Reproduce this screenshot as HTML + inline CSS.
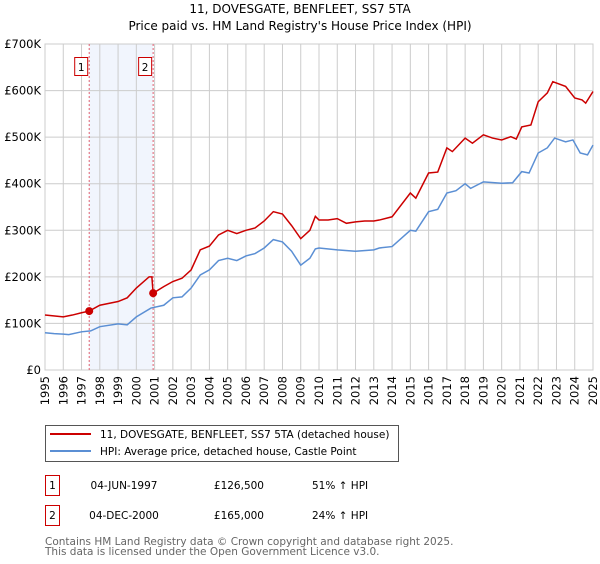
<!DOCTYPE html>
<html><head><meta charset="utf-8"><style>
body{margin:0;background:#fff;width:600px;height:560px;overflow:hidden;font-family:"DejaVu Sans","Liberation Sans",sans-serif}
svg text{font-family:"DejaVu Sans","Liberation Sans",sans-serif}
</style></head><body>
<svg id="c" width="600" height="560" xmlns="http://www.w3.org/2000/svg">
<text x="300" y="13" text-anchor="middle" font-size="12" fill="#000">11, DOVESGATE, BENFLEET, SS7 5TA</text>
<text x="300" y="30" text-anchor="middle" font-size="12" fill="#000">Price paid vs. HM Land Registry's House Price Index (HPI)</text>
<g id="plot"></g>
<g>
<rect x="45.5" y="425.5" width="353" height="36" fill="#fff" stroke="#555"/>
<line x1="50" y1="434" x2="91" y2="434" stroke="#cc0000" stroke-width="2"/>
<text x="100" y="438" font-size="10.5">11, DOVESGATE, BENFLEET, SS7 5TA (detached house)</text>
<line x1="50" y1="451" x2="91" y2="451" stroke="#5b8fd4" stroke-width="2"/>
<text x="100" y="455" font-size="10.5">HPI: Average price, detached house, Castle Point</text>
</g>
<g font-size="10.5">
<rect x="45.5" y="475.5" width="14" height="20" fill="#fff" stroke="#cc0000"/>
<text x="52.5" y="489" text-anchor="middle">1</text>
<text x="124" y="489" text-anchor="middle">04-JUN-1997</text>
<text x="264" y="489" text-anchor="end">£126,500</text>
<text x="312" y="489">51% ↑ HPI</text>
<rect x="45.5" y="505.5" width="14" height="20" fill="#fff" stroke="#cc0000"/>
<text x="52.5" y="519" text-anchor="middle">2</text>
<text x="124" y="519" text-anchor="middle">04-DEC-2000</text>
<text x="264" y="519" text-anchor="end">£165,000</text>
<text x="312" y="519">24% ↑ HPI</text>
</g>
<text x="45" y="545" font-size="10.5" fill="#666">Contains HM Land Registry data © Crown copyright and database right 2025.</text>
<text x="45" y="555" font-size="10.5" fill="#666">This data is licensed under the Open Government Licence v3.0.</text>
</svg>
<script>
const yearTicks=[1995,1996,1997,1998,1999,2000,2001,2002,2003,2004,2005,2006,2007,2008,2009,2010,2011,2012,2013,2014,2015,2016,2017,2018,2019,2020,2021,2022,2023,2024,2025];
const priceTicks=[0,100,200,300,400,500,600,700];
const priceTickLabels=["£0","£100K","£200K","£300K","£400K","£500K","£600K","£700K"];
const hpiYears=[1995,1995.5,1996,1996.3,1997,1997.5,1998,1999,1999.5,2000,2000.8,2001.5,2002,2002.5,2003,2003.5,2004,2004.5,2005,2005.5,2006,2006.5,2007,2007.5,2008,2008.5,2009,2009.5,2009.8,2010,2011,2012,2013,2013.3,2014,2015,2015.3,2016,2016.5,2017,2017.5,2018,2018.3,2019,2020,2020.6,2021.1,2021.5,2022,2022.5,2022.9,2023.5,2023.9,2024.3,2024.7,2025];
const hpiValues=[80,78,77,76,82,84,93,99,97,114,133,139,155,157,176,204,215,235,240,235,245,250,262,280,275,255,225,240,260,262,258,255,258,262,265,300,298,340,345,380,385,400,390,404,401,402,426,423,466,477,498,490,494,466,462,483];
const propYears=[1995,1996,1996.5,1997,1997.42,1998,1999,1999.5,2000,2000.7,2000.85,2000.92,2001.5,2002,2002.5,2003,2003.5,2004,2004.5,2005,2005.5,2006,2006.5,2007,2007.5,2008,2008.5,2009,2009.5,2009.8,2010,2010.5,2011,2011.5,2012,2012.5,2013,2013.3,2014,2015,2015.3,2016,2016.5,2017,2017.3,2018,2018.4,2019,2019.5,2020,2020.5,2020.8,2021.1,2021.6,2022,2022.5,2022.8,2023.5,2024,2024.4,2024.6,2025];
const propValues=[118,114,118,123,126.5,139,147,155,176,200,200,165,179,190,197,215,258,266,290,300,293,300,305,320,340,335,310,282,300,330,322,322,325,315,318,320,320,322,329,380,369,423,425,477,469,498,487,505,498,494,501,496,522,526,576,595,619,609,584,580,573,598];
const saleYears=[1997.42,2000.92];
const saleValues=[126.5,165];
const saleLabels=["1","2"];
const NS="http://www.w3.org/2000/svg";
const L=45,R=593,T=44,B=370;
const xs=y=>L+(y-1995)/(2025-1995)*(R-L);
const ys=v=>B-v/700*(B-T);
const g=document.getElementById('plot');
function mk(t,a){const e=document.createElementNS(NS,t);for(const k in a)e.setAttribute(k,a[k]);g.appendChild(e);return e;}
let e=mk('rect',{x:xs(saleYears[0]),y:T,width:xs(saleYears[1])-xs(saleYears[0]),height:B-T,fill:'#eef3fc',opacity:0.8});


yearTicks.forEach(y=>{
 let l=mk('line',{x1:xs(y),x2:xs(y),y1:T,y2:B,stroke:'#ccc','stroke-width':1});
 
 
 let t=mk('text',{x:0,y:0,'font-size':11.5,'text-anchor':'end',transform:`translate(${xs(y)+4},${B+6}) rotate(-90)`});
 t.textContent=y;
 
 
});
priceTicks.forEach((p,i)=>{
 let l=mk('line',{x1:L,x2:R,y1:ys(p),y2:ys(p),stroke:'#ccc','stroke-width':1});
 
 
 let t=mk('text',{x:L-4,y:ys(p)+4,'font-size':11.5,'text-anchor':'end'});
 t.textContent=priceTickLabels[i];
 
 
});
e=mk('rect',{x:L,y:T,width:R-L,height:B-T,fill:'none',stroke:'#ccc'});


saleYears.forEach((y,i)=>{
 let l=mk('line',{x1:xs(y),x2:xs(y),y1:T,y2:B,stroke:'#e06070','stroke-width':1,'stroke-dasharray':'2,2'});
 
 
 let r=mk('rect',{x:xs(y)-14.5,y:57.5,width:13,height:18,fill:'#fff',stroke:'#cc0000'});
 
 
 let t=mk('text',{x:xs(y)-8,y:71,'font-size':10.5,'text-anchor':'middle'});
 t.textContent=saleLabels[i];
 
 
});
e=mk('polyline',{points:hpiYears.map((y,i)=>xs(y)+','+ys(hpiValues[i])).join(' '),fill:'none',stroke:'#5b8fd4','stroke-width':1.5});


e=mk('polyline',{points:propYears.map((y,i)=>xs(y)+','+ys(propValues[i])).join(' '),fill:'none',stroke:'#cc0000','stroke-width':1.5});


saleYears.forEach((y,i)=>{
 let c=mk('circle',{cx:xs(y),cy:ys(saleValues[i]),r:4,fill:'#cc0000'});
 
 
});
</script>
</body></html>
